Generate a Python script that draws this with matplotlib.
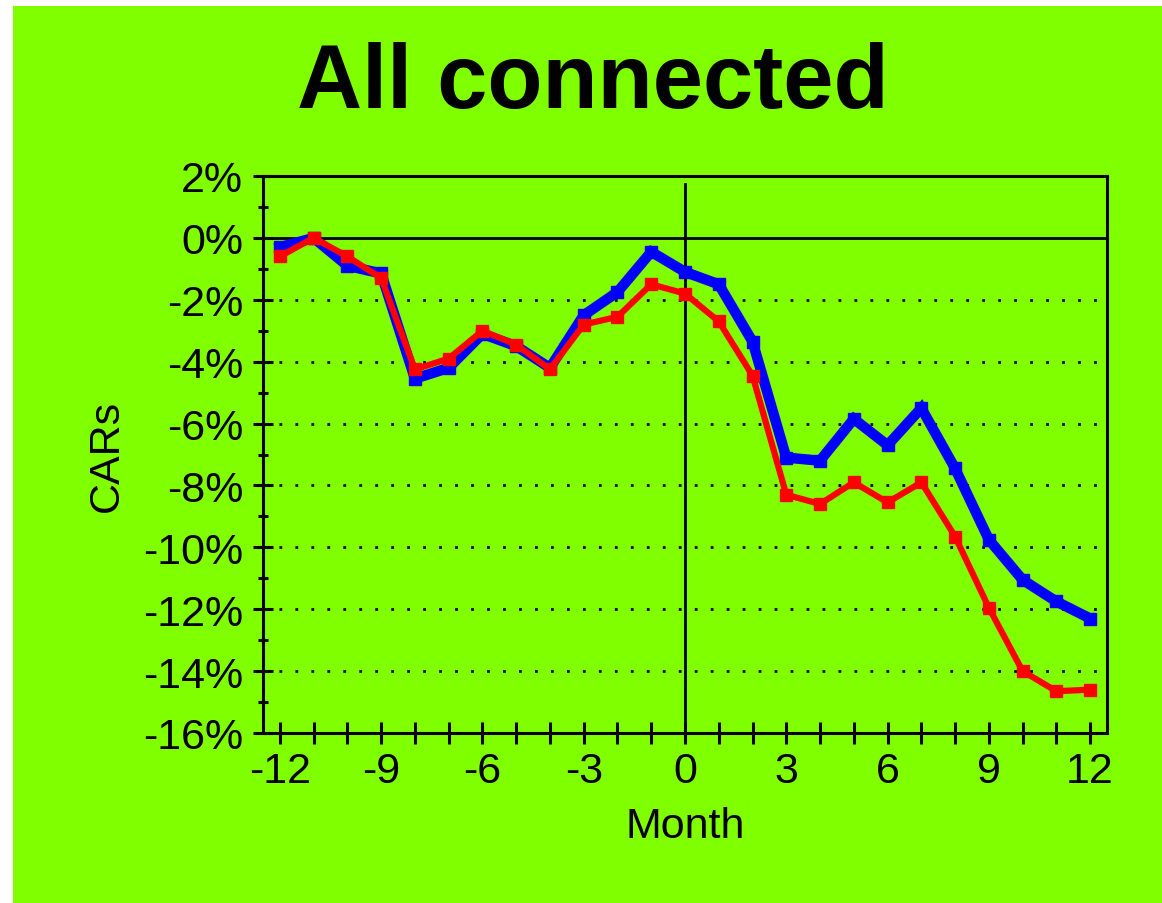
import numpy as np
import matplotlib
matplotlib.use("Agg")
import matplotlib.pyplot as plt
from matplotlib.patches import Rectangle

plt.rcParams["font.family"] = ["Liberation Sans", "DejaVu Sans"]

# months relative to event
months = list(range(-12, 13))
# cumulative abnormal returns in %
car_blue = [-0.3, 0.0, -0.9, -1.15, -4.55, -4.2, -3.1, -3.5, -4.2, -2.5, -1.75,
            -0.45, -1.1, -1.5, -3.35, -7.1, -7.2, -5.85, -6.7, -5.5, -7.45, -9.75,
            -11.05, -11.75, -12.3]
car_red = [-0.6, 0.0, -0.6, -1.3, -4.25, -3.9, -3.0, -3.45, -4.25, -2.8, -2.55,
           -1.5, -1.8, -2.7, -4.45, -8.3, -8.6, -7.9, -8.55, -7.9, -9.65, -11.95,
           -14.0, -14.65, -14.6]
y_major = list(range(-16, 3, 2))
y_minor = list(range(-15, 2, 2))
grid_levels = list(range(-14, -1, 2))
x_ticks = list(range(-12, 13))
x_labels = [str(m) if m % 3 == 0 else "" for m in x_ticks]

green = "#80ff00"

fig = plt.figure(figsize=(11.62, 9.04), dpi=100, facecolor="white")
fig.patches.append(Rectangle((13 / 1162, 0), 1, 1 - 7 / 904, transform=fig.transFigure,
                             facecolor=green, edgecolor="none", zorder=-10))

ax = fig.add_axes([263 / 1162, 1 - 734 / 904, (1107 - 263) / 1162, (734 - 177) / 904])
ax.set_facecolor(green)
ax.set_xlim(-12.5, 12.5)
ax.set_ylim(-16, 2)

# dotted grid, zero line and event line
for lvl in grid_levels:
    ax.axhline(lvl, color="black", lw=2.0, linestyle=(0, (1, 4.75)), zorder=1)
ax.axhline(0, color="black", lw=2.0, zorder=1)
ax.axvline(0, ymax=(1.75 + 16) / 18, color="black", lw=2.0, zorder=1)

ax.plot(months, car_blue, color="#0000ff", lw=7.5, marker="s", markersize=9,
        solid_joinstyle="miter", zorder=3)
ax.plot(months, car_red, color="#ff0000", lw=4.5, marker="s", markersize=8,
        zorder=4)

for sp in ax.spines.values():
    sp.set_linewidth(2.2)
    sp.set_color("black")

ax.set_xticks(x_ticks)
ax.set_xticklabels(x_labels)
ax.set_yticks(y_major)
ax.set_yticklabels([f"{v}%" for v in y_major])
ax.set_yticks(y_minor, minor=True)
ax.tick_params(axis="x", direction="inout", length=16, width=2.2, labelsize=31, pad=5)
ax.tick_params(axis="y", which="major", direction="inout", length=14.4, width=2.2,
               labelsize=31, pad=7)
ax.tick_params(axis="y", which="minor", direction="inout", length=7.2, width=2.2)

ax.set_xlabel("Month", fontsize=31, labelpad=11)
ax.set_ylabel("CARs", fontsize=31, labelpad=12)

fig.text(592.5 / 1162, 1 - 108 / 904, "All connected", fontsize=65, fontweight="bold",
         ha="center", va="baseline")

fig.savefig("out.png", dpi=100, facecolor=fig.get_facecolor())
